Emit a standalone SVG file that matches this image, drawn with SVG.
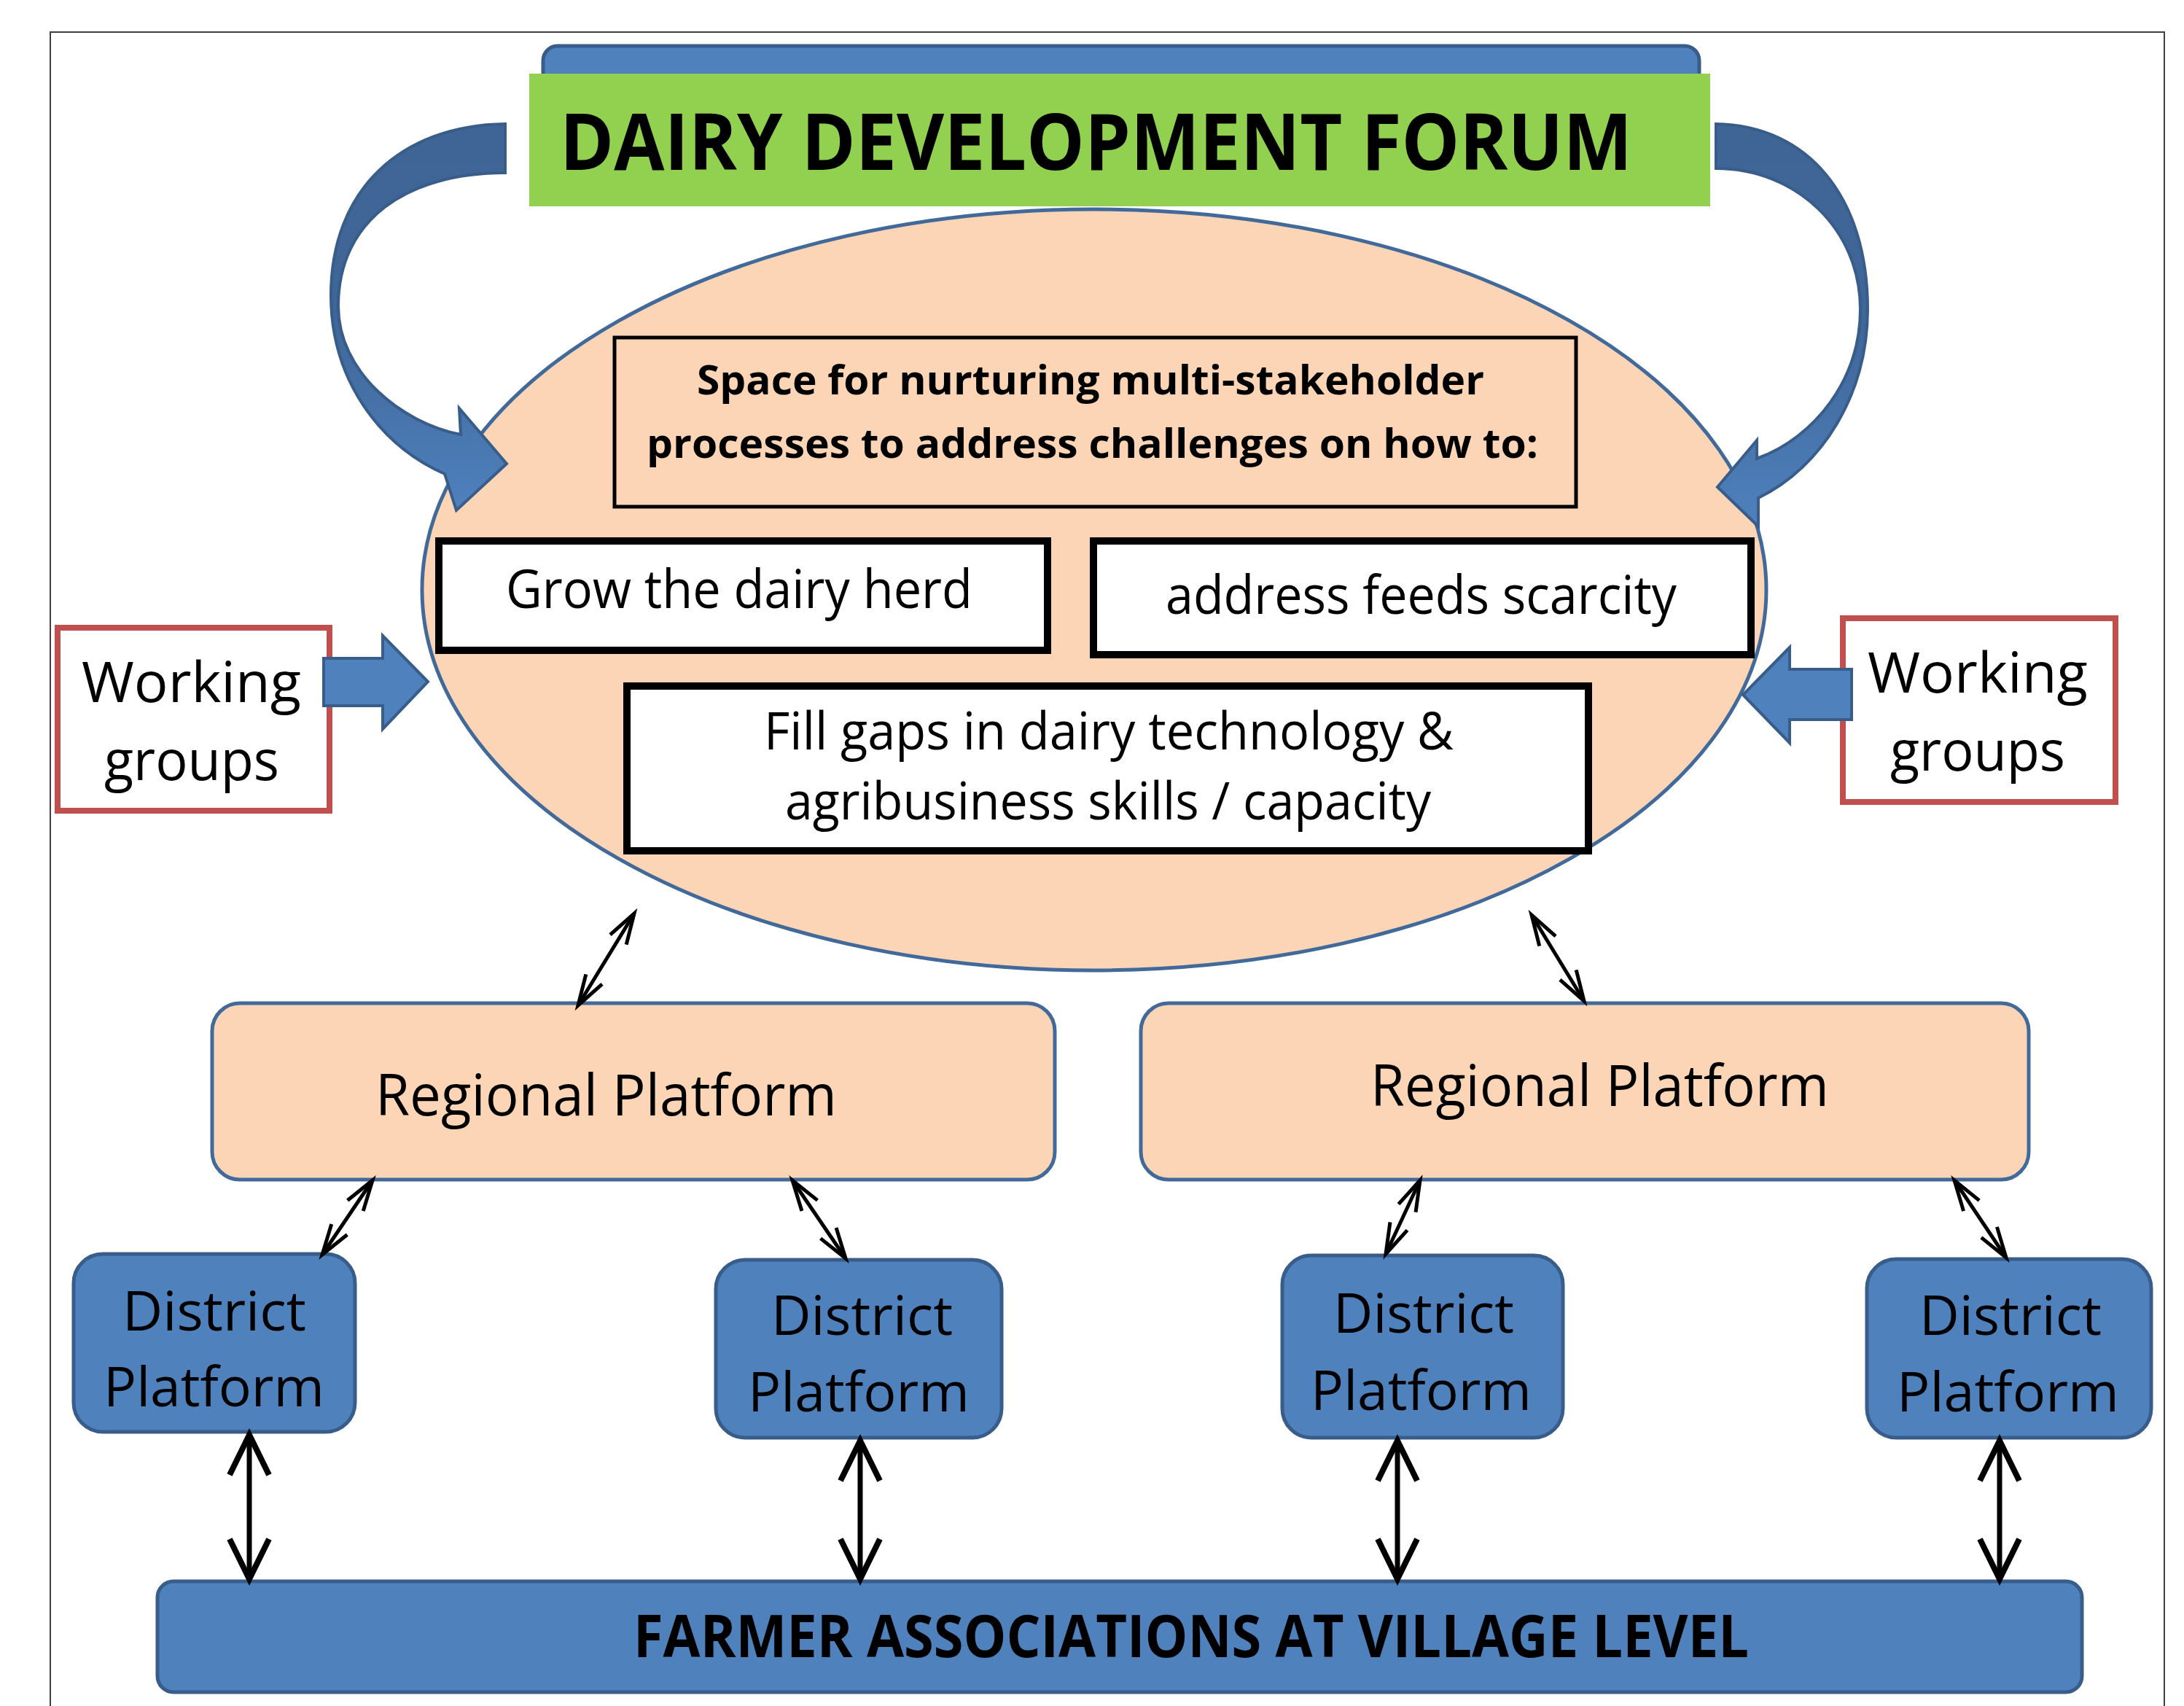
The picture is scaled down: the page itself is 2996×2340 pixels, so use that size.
<svg xmlns="http://www.w3.org/2000/svg" width="2996" height="2340" viewBox="0 0 2996 2340">
<style>
.t{font-family:"Open Sans","Noto Sans","Liberation Sans",sans-serif;fill:#000}
.b{font-weight:bold}
.blue{fill:#4F81BD;stroke:#385D8A;stroke-width:5}
.peach{fill:#FBD5B5;stroke:#41699A;stroke-width:5}
.box{fill:#FFFFFF;stroke:#000;stroke-width:10}
.wg{fill:#FFFFFF;stroke:#C0504D;stroke-width:8}
.thin{stroke:#000;stroke-width:5;fill:none}
.thick{stroke:#000;stroke-width:7;fill:none}
</style>
<defs>
<linearGradient id="cg" x1="0" y1="0" x2="0" y2="1">
<stop offset="0" stop-color="#3F6595"/>
<stop offset="0.5" stop-color="#3F6698"/>
<stop offset="1" stop-color="#4F81BD"/>
</linearGradient>
<marker id="ah" markerUnits="userSpaceOnUse" orient="auto-start-reverse" markerWidth="60" markerHeight="40" viewBox="-50 -20 60 40" refX="0" refY="0" overflow="visible">
<path d="M-42,-13 L0,0 L-42,13" fill="none" stroke="#000" stroke-width="5"/>
</marker>
<marker id="ahb" markerUnits="userSpaceOnUse" orient="auto-start-reverse" markerWidth="80" markerHeight="70" viewBox="-70 -35 80 70" refX="0" refY="0" overflow="visible">
<path d="M-55,-27 L0,0 L-55,27" fill="none" stroke="#000" stroke-width="8"/>
</marker>
</defs>
<rect x="0" y="0" width="2996" height="2340" fill="#FFFFFF"/>
<path d="M69,2340 V44 H2969 V2340" fill="none" stroke="#404040" stroke-width="2"/>

<g id="forum">
<rect x="745" y="63" width="1586" height="90" rx="20" class="blue"/>
<rect x="726" y="101" width="1620" height="182" fill="#92D050"/>
<text class="t b" x="768" y="233" font-size="108" textLength="1471" lengthAdjust="spacingAndGlyphs">DAIRY DEVELOPMENT FORUM</text>
</g>

<g id="space">
<ellipse cx="1501" cy="809" rx="922" ry="522" class="peach"/>
<rect x="843" y="463" width="1319" height="232" fill="none" stroke="#000" stroke-width="5"/>
<text class="t b" x="956" y="541" font-size="56" textLength="1080" lengthAdjust="spacingAndGlyphs">Space for nurturing multi-stakeholder</text>
<text class="t b" x="887" y="628" font-size="56" textLength="1223" lengthAdjust="spacingAndGlyphs">processes to address challenges on how to:</text>
</g>

<g id="curved-arrows">
<path d="M693,170 C550,172 454,260 454,405 C454,520 520,610 610,650 L626,700 L695,636 L630,560 L632,596 C550,580 464,510 464,420 C464,300 560,237 693,237 Z" fill="url(#cg)" stroke="#385D8A" stroke-width="4"/>
<path d="M2354,170 C2480,172 2562,270 2562,424 C2562,540 2500,640 2412,683 L2412,722 L2356,668 L2410,604 L2410,629 C2490,600 2552,520 2552,424 C2552,315 2465,231 2354,231 Z" fill="url(#cg)" stroke="#385D8A" stroke-width="4"/>
</g>

<g id="grow">
<rect x="602" y="742" width="835" height="150" class="box"/>
<text class="t" x="694" y="834" font-size="73" textLength="640" lengthAdjust="spacingAndGlyphs">Grow the dairy herd</text>
</g>

<g id="feeds">
<rect x="1500" y="742" width="902" height="156" class="box"/>
<text class="t" x="1599" y="842" font-size="73" textLength="701" lengthAdjust="spacingAndGlyphs">address feeds scarcity</text>
</g>

<g id="gaps">
<rect x="860" y="941" width="1319" height="226" class="box"/>
<text class="t" x="1048" y="1028" font-size="71" textLength="946" lengthAdjust="spacingAndGlyphs">Fill gaps in dairy technology &amp;</text>
<text class="t" x="1077" y="1124" font-size="71" textLength="886" lengthAdjust="spacingAndGlyphs">agribusiness skills / capacity</text>
</g>

<g id="wg-left">
<rect x="79" y="861" width="373" height="251" class="wg"/>
<text class="t" x="112" y="963" font-size="77" textLength="301" lengthAdjust="spacingAndGlyphs">Working</text>
<text class="t" x="143" y="1070" font-size="77" textLength="240" lengthAdjust="spacingAndGlyphs">groups</text>
<path d="M444,903 H525 V872 L587,935 L525,1000 V968 H444 Z" fill="#4F81BD" stroke="#385D8A" stroke-width="4"/>
</g>

<g id="wg-right">
<rect x="2528" y="848" width="374" height="252" class="wg"/>
<text class="t" x="2562" y="950" font-size="77" textLength="302" lengthAdjust="spacingAndGlyphs">Working</text>
<text class="t" x="2593" y="1057" font-size="77" textLength="240" lengthAdjust="spacingAndGlyphs">groups</text>
<path d="M2540,918 H2455 V888 L2391,953 L2455,1019 V987 H2540 Z" fill="#4F81BD" stroke="#385D8A" stroke-width="4"/>
</g>

<g id="regional-left">
<rect x="291" y="1376" width="1156" height="242" rx="38" class="peach"/>
<text class="t" x="515" y="1530" font-size="78" textLength="633" lengthAdjust="spacingAndGlyphs">Regional Platform</text>
</g>
<g id="regional-right">
<rect x="1565" y="1376" width="1218" height="242" rx="38" class="peach"/>
<text class="t" x="1880" y="1517" font-size="78" textLength="629" lengthAdjust="spacingAndGlyphs">Regional Platform</text>
</g>

<g id="district-1">
<rect x="101" y="1720" width="386" height="244" rx="40" class="blue"/>
<text class="t" x="168" y="1825" font-size="75" textLength="252" lengthAdjust="spacingAndGlyphs">District</text>
<text class="t" x="142" y="1929" font-size="75" textLength="303" lengthAdjust="spacingAndGlyphs">Platform</text>
</g>
<g id="district-2">
<rect x="982" y="1728" width="392" height="244" rx="40" class="blue"/>
<text class="t" x="1058" y="1831" font-size="75" textLength="249" lengthAdjust="spacingAndGlyphs">District</text>
<text class="t" x="1026" y="1936" font-size="75" textLength="304" lengthAdjust="spacingAndGlyphs">Platform</text>
</g>
<g id="district-3">
<rect x="1759" y="1722" width="385" height="250" rx="40" class="blue"/>
<text class="t" x="1829" y="1828" font-size="75" textLength="248" lengthAdjust="spacingAndGlyphs">District</text>
<text class="t" x="1798" y="1934" font-size="75" textLength="303" lengthAdjust="spacingAndGlyphs">Platform</text>
</g>
<g id="district-4">
<rect x="2561" y="1727" width="390" height="245" rx="40" class="blue"/>
<text class="t" x="2633" y="1831" font-size="75" textLength="250" lengthAdjust="spacingAndGlyphs">District</text>
<text class="t" x="2602" y="1936" font-size="75" textLength="305" lengthAdjust="spacingAndGlyphs">Platform</text>
</g>

<g id="farmers">
<rect x="216" y="2169" width="2640" height="152" rx="22" class="blue"/>
<text class="t b" x="869" y="2273" font-size="80" textLength="1530" lengthAdjust="spacingAndGlyphs">FARMER ASSOCIATIONS AT VILLAGE LEVEL</text>
</g>

<g id="connectors">
<line x1="870" y1="1253" x2="793" y2="1379" class="thin" marker-start="url(#ah)" marker-end="url(#ah)"/>
<line x1="2101" y1="1255" x2="2173" y2="1373" class="thin" marker-start="url(#ah)" marker-end="url(#ah)"/>
<line x1="511" y1="1619" x2="442" y2="1721" class="thin" marker-start="url(#ah)" marker-end="url(#ah)"/>
<line x1="1087" y1="1619" x2="1160" y2="1726" class="thin" marker-start="url(#ah)" marker-end="url(#ah)"/>
<line x1="1948" y1="1619" x2="1901" y2="1720" class="thin" marker-start="url(#ah)" marker-end="url(#ah)"/>
<line x1="2681" y1="1619" x2="2752" y2="1725" class="thin" marker-start="url(#ah)" marker-end="url(#ah)"/>
<line x1="342" y1="1968" x2="342" y2="2166" class="thick" marker-start="url(#ahb)" marker-end="url(#ahb)"/>
<line x1="1180" y1="1976" x2="1180" y2="2166" class="thick" marker-start="url(#ahb)" marker-end="url(#ahb)"/>
<line x1="1917" y1="1976" x2="1917" y2="2166" class="thick" marker-start="url(#ahb)" marker-end="url(#ahb)"/>
<line x1="2743" y1="1976" x2="2743" y2="2166" class="thick" marker-start="url(#ahb)" marker-end="url(#ahb)"/>
</g>
</svg>
